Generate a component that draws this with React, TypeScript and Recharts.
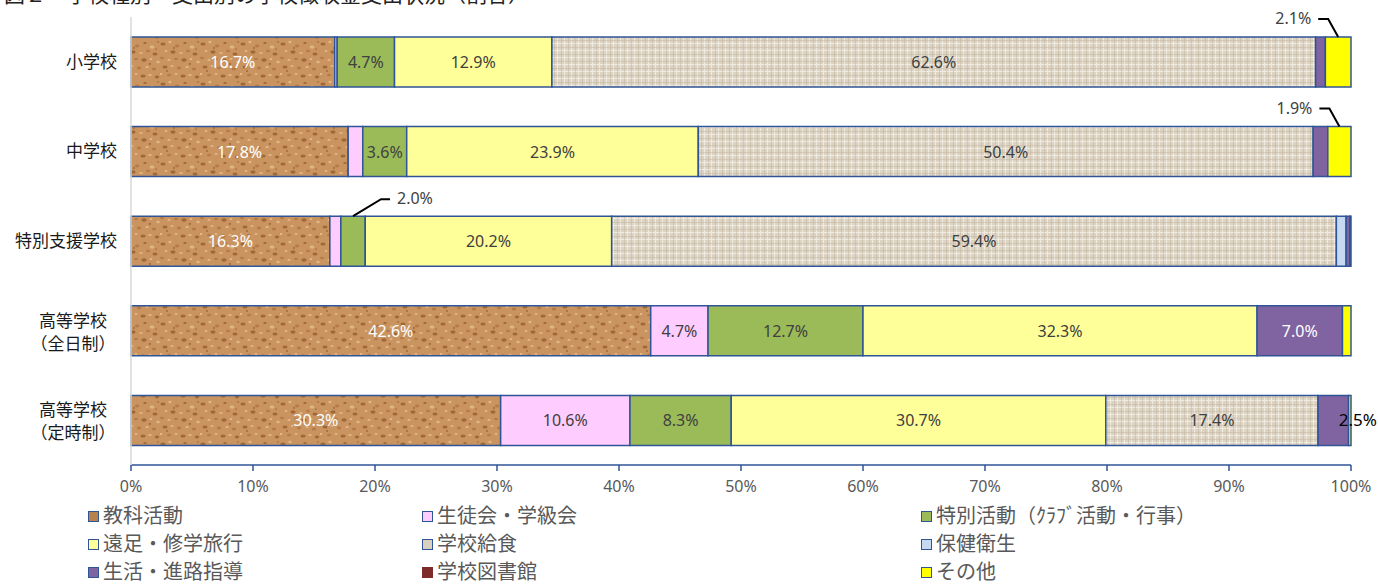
import React from "react"
import { Bar, BarChart, LabelList, XAxis, YAxis } from "recharts"

const categories = ["小学校", "中学校", "特別支援学校", "高等学校\n（全日制）", "高等学校\n（定時制）"]

const seriesNames = [
  "教科活動",
  "生徒会・学級会",
  "特別活動（ｸﾗﾌﾞ活動・行事）",
  "遠足・修学旅行",
  "学校給食",
  "保健衛生",
  "生活・進路指導",
  "学校図書館",
  "その他",
]

const kyoka = [16.7, 17.8, 16.3, 42.6, 30.3]
const seito = [0.2, 1.2, 0.9, 4.7, 10.6]
const tokubetsu = [4.7, 3.6, 2.0, 12.7, 8.3]
const ensoku = [12.9, 23.9, 20.2, 32.3, 30.7]
const kyushoku = [62.6, 50.4, 59.4, 0, 17.4]
const hoken = [0, 0, 0.8, 0, 0]
const seikatsu = [0.8, 1.2, 0.3, 7.0, 2.5]
const toshokan = [0, 0, 0, 0, 0]
const sonota = [2.1, 1.9, 0.1, 0.7, 0.2]

const xTicks = [0, 10, 20, 30, 40, 50, 60, 70, 80, 90, 100]

// labels drawn with a leader line instead of inside the bar
const callouts = [
  { series: 8, row: 0, side: "left" },
  { series: 8, row: 1, side: "left" },
  { series: 2, row: 2, side: "right" },
  { series: 6, row: 4, side: "after" },
]

const seriesValues = [kyoka, seito, tokubetsu, ensoku, kyushoku, hoken, seikatsu, toshokan, sonota]

const fills = [
  "url(#cork)",
  "#FFCCFF",
  "#9BBB59",
  "#FFFF99",
  "url(#linen)",
  "#C6D9F1",
  "#8064A2",
  "#7F2A2A",
  "#FFFF00",
]
const swatches = ["#B9814C", "#FFCCFF", "#9BBB59", "#FFFF99", "#D9D0BE", "#C6D9F1", "#8064A2", "#7F2A2A", "#FFFF00"]
const labelColors = ["#fff", "#404040", "#404040", "#404040", "#404040", "#404040", "#fff", "#fff", "#404040"]

const data = categories.map((name, i) => {
  const row: any = { name }
  seriesValues.forEach((vals, s) => {
    row["s" + s] = vals[i]
  })
  return row
})

// texture for the cork fill
const corkDark = "#9A6030"
const corkMid = "#B27642"
const corkLight = "#E4BE8E"
const corkSpots: [number, number, number, number, string][] = [
  [3, 4, 2.6, 1.6, corkDark], [10, 2, 1.6, 1.2, corkLight], [17, 6, 2.2, 1.4, corkMid], [25, 3, 1.8, 1.1, corkDark],
  [32, 7, 2.4, 1.5, corkLight], [38, 2, 1.4, 1.0, corkMid], [6, 11, 1.5, 1.0, corkLight], [13, 12, 2.6, 1.7, corkDark],
  [21, 13, 1.7, 1.1, corkLight], [28, 11, 2.0, 1.3, corkMid], [35, 14, 2.5, 1.6, corkDark], [2, 18, 2.0, 1.2, corkMid],
  [9, 20, 1.6, 1.1, corkLight], [16, 19, 1.9, 1.2, corkMid], [24, 20, 2.7, 1.7, corkDark], [31, 19, 1.5, 1.0, corkLight],
  [38, 22, 1.8, 1.2, corkLight], [5, 27, 2.5, 1.6, corkDark], [12, 26, 1.5, 1.0, corkLight], [19, 28, 2.2, 1.4, corkMid],
  [27, 27, 1.6, 1.1, corkLight], [34, 29, 2.3, 1.5, corkMid], [1, 34, 1.7, 1.1, corkLight], [9, 35, 2.0, 1.3, corkMid],
  [16, 34, 1.5, 1.0, corkLight], [23, 36, 2.6, 1.6, corkDark], [30, 35, 1.7, 1.1, corkLight], [37, 37, 2.2, 1.4, corkDark],
  [14, 8, 0.9, 0.7, "#7A451D"], [30, 24, 1.0, 0.7, "#7A451D"], [7, 31, 0.9, 0.7, "#7A451D"], [36, 9, 0.8, 0.6, "#7A451D"],
]

const font = "'Noto Sans', 'Noto Sans CJK JP', sans-serif"

const YTick = ({ x, y, payload }: any) => {
  const lines = String(payload.value).split("\n")
  if (lines.length === 1) {
    return (
      <text x={x - 6} y={y} dy={6} textAnchor="end" fontSize={17} fill="#1a1a1a" fontFamily={font}>
        {lines[0]}
      </text>
    )
  }
  return (
    <g>
      {lines.map((l, i) => (
        <text key={i} x={x - 50} y={y - 10 + i * 23} dy={6} textAnchor="middle" fontSize={17} fill="#1a1a1a" fontFamily={font}>
          {l}
        </text>
      ))}
    </g>
  )
}

const makeLabel = (s: number) => (props: any) => {
  const { x, y, width, height, value, index } = props
  const text = Number(value).toFixed(1) + "%"
  const c = callouts.find((k) => k.series === s && k.row === index)
  if (c) {
    const ax = x + width / 2
    if (c.side === "left") {
      return (
        <g>
          <polyline points={`${ax},${y} ${ax - 10},${y - 18} ${ax - 20},${y - 18}`} fill="none" stroke="#000" strokeWidth={2} />
          <text x={ax - 27} y={y - 18} dy={5} textAnchor="end" fontSize={16} fill="#404040" fontFamily={font}>
            {text}
          </text>
        </g>
      )
    }
    if (c.side === "right") {
      return (
        <g>
          <polyline points={`${ax},${y} ${ax + 28},${y - 17} ${ax + 37},${y - 17}`} fill="none" stroke="#000" strokeWidth={2} />
          <text x={ax + 44} y={y - 17} dy={5} textAnchor="start" fontSize={16} fill="#404040" fontFamily={font}>
            {text}
          </text>
        </g>
      )
    }
    return (
      <text x={x + width * 0.68} y={y + height / 2} dy={6} textAnchor="start" fontSize={17} fill="#000" fontFamily={font}>
        {text}
      </text>
    )
  }
  if (value < 3) return null
  return (
    <text x={x + width / 2} y={y + height / 2} dy={6} textAnchor="middle" fontSize={16} fill={labelColors[s]} fontFamily={font}>
      {text}
    </text>
  )
}

export default function App() {
  return (
    <div style={{ position: "absolute", left: 0, top: 0, width: 1378, height: 588, background: "#fff", overflow: "hidden", fontFamily: font }}>
      <div style={{ position: "absolute", left: 4, top: -22, fontSize: 21, color: "#222", whiteSpace: "nowrap" }}>
        図２　学校種別・支出別の学校徴収金支出状況（割合）
      </div>
      <BarChart
        width={1378}
        height={588}
        data={data}
        layout="vertical"
        margin={{ top: 17, right: 27, left: 0, bottom: 83 }}
        barSize={50}
      >
        <defs>
          <pattern id="cork" width={40} height={40} patternUnits="userSpaceOnUse">
            <rect width={40} height={40} fill="#C99460" />
            {corkSpots.map(([cx, cy, rx, ry, col], i) => (
              <ellipse key={i} cx={cx} cy={cy} rx={rx} ry={ry} fill={col} opacity={0.85} />
            ))}
          </pattern>
          <pattern id="linen" width={7} height={7} patternUnits="userSpaceOnUse">
            <rect width={7} height={7} fill="#DCD3C2" />
            <rect y={1} width={7} height={1} fill="#F1ECE3" />
            <rect x={4} width={1} height={7} fill="#F0EBE1" />
            <rect y={5} width={7} height={1} fill="#C7BCA6" opacity={0.6} />
            <rect x={1} width={1} height={7} fill="#C2B69F" opacity={0.5} />
          </pattern>
        </defs>
        <XAxis
          type="number"
          domain={[0, 100]}
          ticks={xTicks}
          tickFormatter={(v) => v + "%"}
          axisLine={{ stroke: "#2F5597", strokeWidth: 1.5 }}
          tickLine={{ stroke: "#2F5597", strokeWidth: 1.5 }}
          tickSize={6}
          tick={{ fontSize: 16, fill: "#595959", fontFamily: font }}
          tickMargin={10}
          height={40}
        />
        <YAxis
          type="category"
          dataKey="name"
          width={131}
          axisLine={{ stroke: "#D9D9D9", strokeWidth: 1.5 }}
          tickLine={false}
          tick={<YTick />}
          interval={0}
        />
        {seriesNames.map((n, s) => (
          <Bar
            key={n}
            dataKey={"s" + s}
            name={n}
            stackId="a"
            fill={fills[s]}
            stroke="#2F5597"
            strokeWidth={1.5}
            isAnimationActive={false}
          >
            <LabelList dataKey={"s" + s} content={makeLabel(s)} />
          </Bar>
        ))}
      </BarChart>
      <div
        style={{
          position: "absolute",
          left: 88,
          top: 503,
          display: "grid",
          gridTemplateColumns: "334px 499px 440px",
          rowGap: 2,
          fontSize: 20,
          lineHeight: "26px",
          color: "#595959",
        }}
      >
        {seriesNames.map((n, s) => (
          <div key={n} style={{ display: "flex", alignItems: "center", height: 26, whiteSpace: "nowrap" }}>
            <span
              style={{
                display: "inline-block",
                width: 9,
                height: 9,
                background: swatches[s],
                border: s === 7 ? "1px solid #7F2A2A" : "1px solid #2F5597",
                marginRight: 4,
              }}
            />
            {n}
          </div>
        ))}
      </div>
    </div>
  )
}
